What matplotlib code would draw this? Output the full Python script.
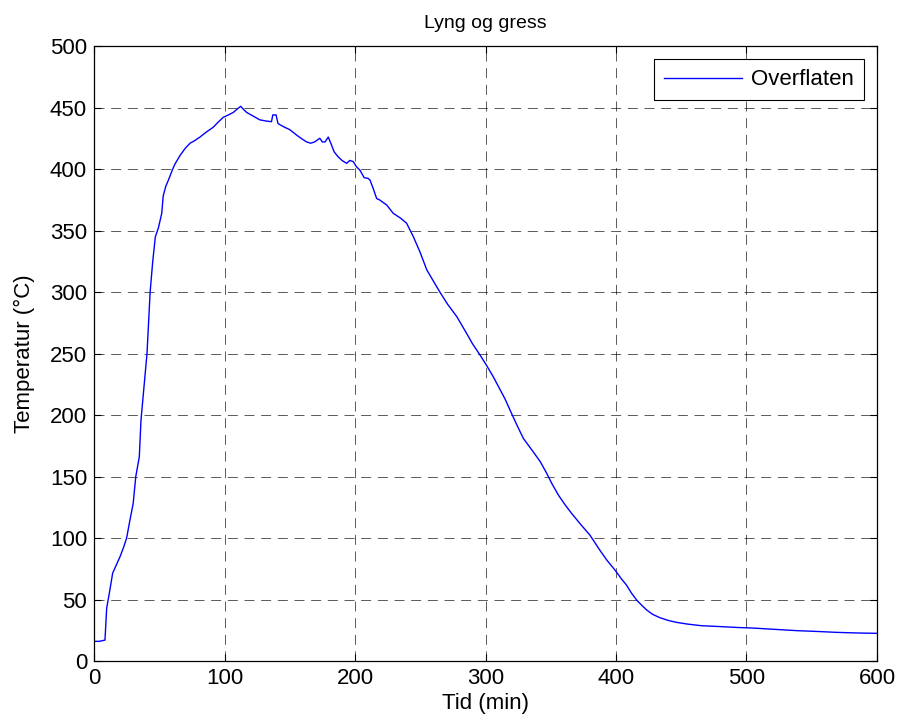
import numpy as np
import matplotlib
matplotlib.use("Agg")
import matplotlib.pyplot as plt

# readings (min, degC)
tid = [0, 4, 8.4, 9.7, 11.7, 14.3, 17, 20, 22.5, 25, 27.6, 30, 32, 34.7, 36,
       38.5, 40.6, 43, 45, 47, 49.3, 51.9, 53, 55, 57, 60.3, 62, 65.9, 70,
       73.6, 77, 81.2, 86, 91.4, 95, 99, 103, 106.7, 110, 112.4, 115, 117,
       122, 127, 132, 136, 137, 139.5, 141, 142.5, 146, 150, 156, 160, 163,
       166, 169, 173, 175, 177, 179.5, 182, 184, 187, 190, 193.6, 196, 198.7,
       201, 203.8, 207, 210, 211.5, 214, 216.6, 219, 224.3, 229.3, 235, 239.5,
       244.7, 250, 255, 260, 265, 271, 278, 285.5, 290, 295.8, 301, 306, 311,
       315, 318.8, 324, 329, 336.6, 342, 346.9, 351, 355.8, 361, 366, 373,
       380, 387.7, 393, 399.2, 404, 408, 412, 415.8, 420, 423.5, 428, 433.7,
       440, 446.5, 455, 465.6, 480, 492.4, 505, 518, 528, 538.5, 555, 569,
       585, 600]
temp = [16, 16, 17, 43, 55, 71.5, 78, 85, 92, 100, 115, 128, 150, 166, 196,
        225, 250, 300, 325, 345, 352, 364, 378, 386, 391, 400, 404, 411, 417,
        421, 423, 426, 430, 434, 438, 442, 444, 446, 449, 451, 448, 446, 443,
        440, 439, 438.5, 444, 444, 437, 436, 434, 432, 427, 424, 422, 421, 422,
        425, 422, 422, 426, 419.5, 414, 410, 407, 404.6, 407, 406, 402, 399,
        393, 392.4, 391, 384, 376, 374.8, 370.7, 364, 360, 356, 345, 332, 318,
        309, 300, 290, 280, 266.4, 258, 248.8, 240, 231, 221, 213, 204, 192,
        181, 170, 162, 152.6, 144, 135, 127, 120, 111, 102.4, 90, 82, 74, 67,
        61.8, 55, 49.6, 45, 41.5, 38, 35.2, 33, 31.4, 30, 28.7, 28, 27.3, 26.8,
        26, 25.4, 24.7, 24, 23.3, 22.8, 22.5]

plt.rcParams['font.family'] = ['Liberation Sans', 'DejaVu Sans']

fig = plt.figure(figsize=(8.98, 7.26), dpi=100)
ax = fig.add_axes([0.1047, 0.0895, 0.8719, 0.8471])

ax.plot(tid, temp, color='#0000ff', linewidth=1.0, label='Overflaten')

ax.set_xlim(0, 600)
ax.set_ylim(0, 500)
ax.set_xticks(np.arange(0, 601, 100))
ax.set_yticks(np.arange(0, 501, 50))
ax.grid(True, color='black', linestyle=(0, (12, 8)), linewidth=0.6, alpha=0.75)
ax.tick_params(direction='in', labelsize=16, length=5, pad=5, top=True, right=True)
for s in ax.spines.values():
    s.set_linewidth(0.9)

ax.set_title('Lyng og gress', fontsize=14, pad=13)
ax.set_xlabel('Tid (min)', fontsize=16, labelpad=3)
ax.set_ylabel('Temperatur (°C)', fontsize=16, labelpad=11)

leg = ax.legend(loc='upper right', fontsize=16, fancybox=False, framealpha=1,
                edgecolor='black', borderaxespad=0.6, handlelength=3.5,
                handletextpad=0.4, borderpad=0.45)
leg.get_frame().set_linewidth(0.8)

fig.savefig('out.png', dpi=100)
